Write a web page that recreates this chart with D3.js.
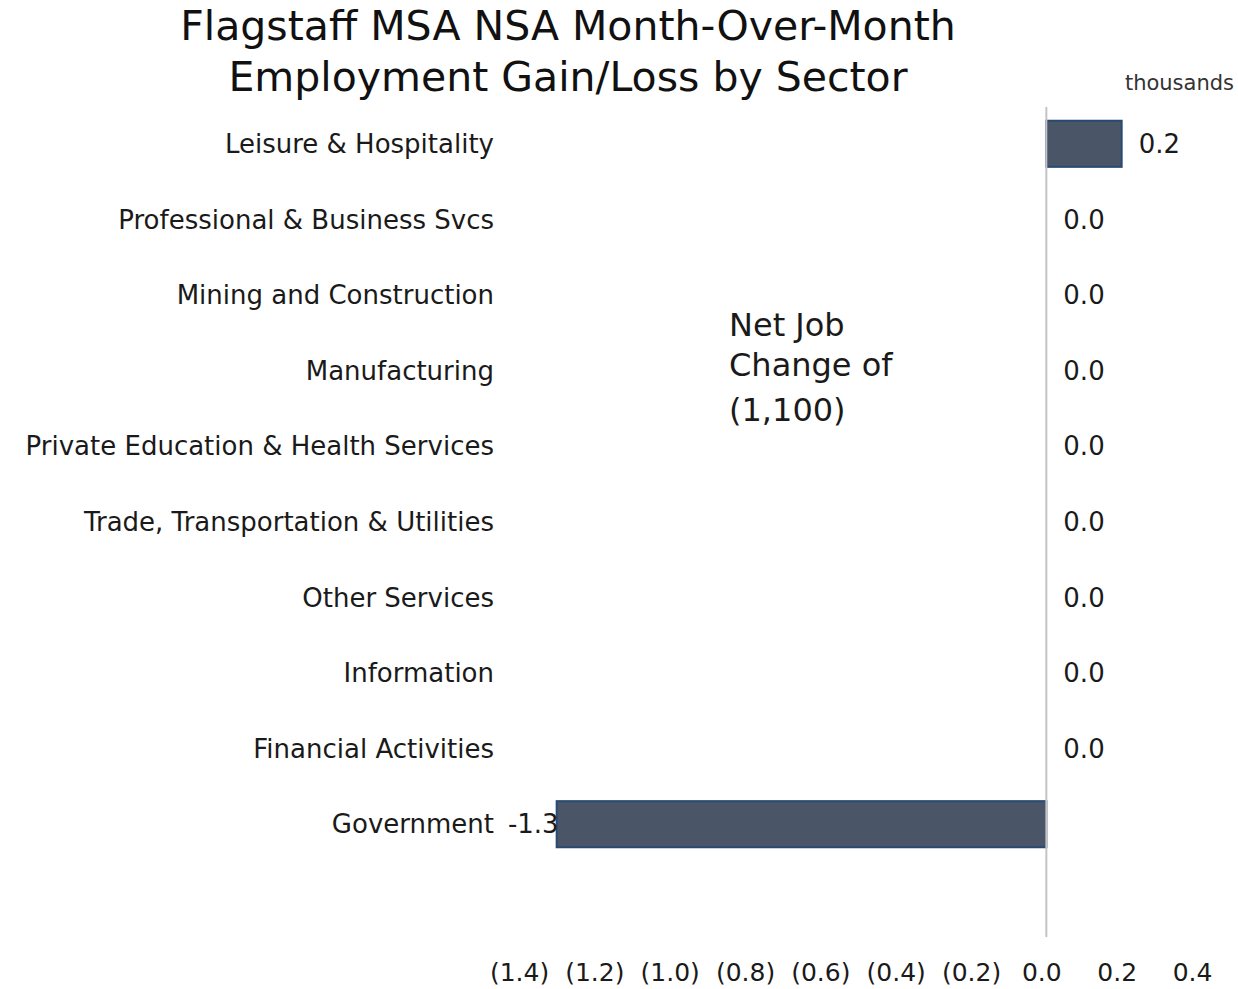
<!DOCTYPE html>
<html>
<head>
<meta charset="utf-8">
<script src="https://cdn.jsdelivr.net/npm/d3@7"></script>
<style>
  body { margin: 0; background: #fff; }
  svg { display: block; font-family: "DejaVu Sans", Verdana, sans-serif; }
</style>
</head>
<body>
<svg id="chart" width="1238" height="989"></svg>
<script>
const categories = [
  "Leisure & Hospitality",
  "Professional & Business Svcs",
  "Mining and Construction",
  "Manufacturing",
  "Private Education & Health Services",
  "Trade, Transportation & Utilities",
  "Other Services",
  "Information",
  "Financial Activities",
  "Government"
];
const values = [0.2, 0.0, 0.0, 0.0, 0.0, 0.0, 0.0, 0.0, 0.0, -1.3];
const tickValues = [-1.4, -1.2, -1.0, -0.8, -0.6, -0.4, -0.2, 0.0, 0.2, 0.4];
const titleLines = ["Flagstaff MSA NSA Month-Over-Month", "Employment Gain/Loss by Sector"];
const unitLabel = "thousands";
const noteLines = ["Net Job", "Change of", "(1,100)"];

const svg = d3.select("#chart");

const x = d3.scaleLinear().domain([-1.4, 0.4]).range([519, 1197]);
const y = d3.scaleBand().domain(categories).range([106, 862]).paddingInner(0.39).paddingOuter(0.195);

const fmt = v => {
  const s = Math.abs(v).toFixed(1);
  return v < -1e-9 ? "(" + s + ")" : s;
};

// Title
svg.append("g").selectAll("text").data(titleLines).join("text")
  .attr("x", 568).attr("y", (d, i) => 40 + i * 51)
  .attr("text-anchor", "middle")
  .attr("font-size", 41).attr("fill", "#111")
  .text(d => d);

// units
svg.append("text").attr("x", 1234).attr("y", 90)
  .attr("text-anchor", "end").attr("font-size", 21).attr("fill", "#333")
  .text(unitLabel);

// Bars
svg.append("g").selectAll("rect").data(categories).join("rect")
  .attr("x", (d, i) => x(Math.min(0, values[i])))
  .attr("y", d => y(d))
  .attr("width", (d, i) => Math.abs(x(values[i]) - x(0)))
  .attr("height", y.bandwidth())
  .attr("fill", "#4a5568")
  .attr("stroke", "#2b4a72")
  .attr("stroke-width", 2);

// Zero line
svg.append("line")
  .attr("x1", x(0)).attr("x2", x(0))
  .attr("y1", 107).attr("y2", 937)
  .attr("stroke", "#c4c4c4").attr("stroke-width", 2);

// Category labels
svg.append("g").selectAll("text").data(categories).join("text")
  .attr("x", 494)
  .attr("y", d => y(d) + y.bandwidth() / 2)
  .attr("dy", "0.35em")
  .attr("text-anchor", "end")
  .attr("font-size", 26).attr("fill", "#1a1a1a")
  .text(d => d);

// Value labels
svg.append("g").selectAll("text").data(categories).join("text")
  .attr("x", (d, i) => values[i] < 0 ? x(values[i]) + 2 : x(values[i]) + 17)
  .attr("y", d => y(d) + y.bandwidth() / 2)
  .attr("dy", "0.35em")
  .attr("text-anchor", (d, i) => values[i] < 0 ? "end" : "start")
  .attr("font-size", 26).attr("fill", "#1a1a1a")
  .text((d, i) => values[i].toFixed(1));

// X axis
const axis = d3.axisBottom(x).tickValues(tickValues).tickFormat(fmt).tickSize(0).tickPadding(0);
const gx = svg.append("g").attr("transform", "translate(0,963)").call(axis);
gx.select(".domain").remove();
gx.selectAll("text").attr("font-size", 25).attr("fill", "#1a1a1a")
  .attr("font-family", "DejaVu Sans, Verdana, sans-serif")
  .attr("dx", d => d >= -1e-9 ? -5 : 0);

// Note
svg.append("g").selectAll("text").data(noteLines).join("text")
  .attr("x", 729).attr("y", (d, i) => [336, 376, 421][i])
  .attr("font-size", 32).attr("fill", "#1a1a1a")
  .text(d => d);
</script>
</body>
</html>
